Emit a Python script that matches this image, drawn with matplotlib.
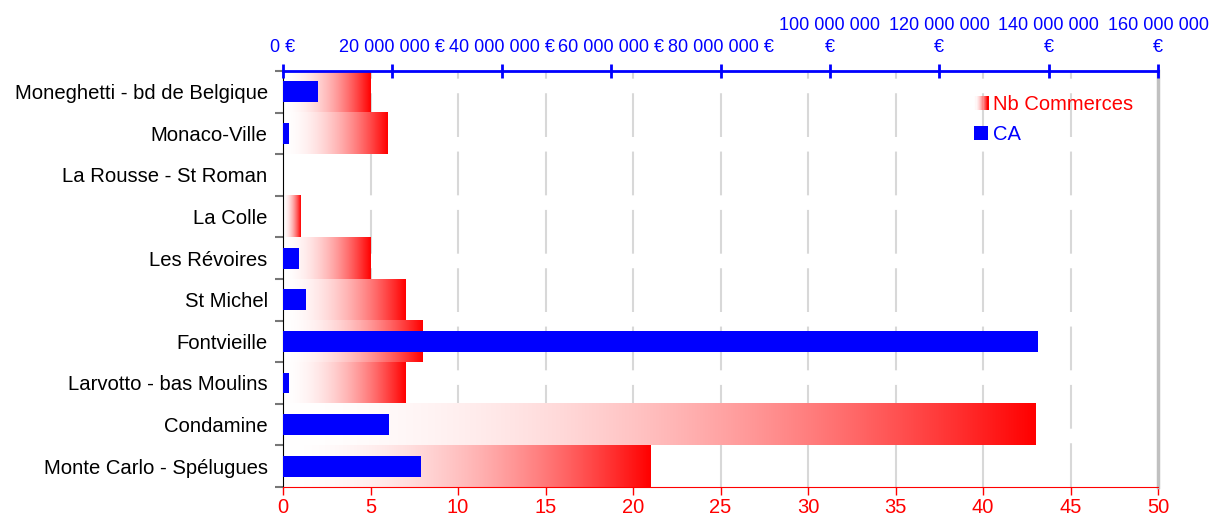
import numpy as np
import matplotlib
matplotlib.use('Agg')
import matplotlib.pyplot as plt
from matplotlib.colors import ListedColormap
from matplotlib.patches import Rectangle
from matplotlib.legend_handler import HandlerBase

plt.rcParams['font.family'] = ['Liberation Sans', 'DejaVu Sans']

# data, top to bottom
quartiers = ['Moneghetti - bd de Belgique', 'Monaco-Ville', 'La Rousse - St Roman',
             'La Colle', 'Les Révoires', 'St Michel', 'Fontvieille',
             'Larvotto - bas Moulins', 'Condamine', 'Monte Carlo - Spélugues']
nb_commerces = [5, 6, 0, 1, 5, 7, 8, 7, 43, 21]
ca = [6.4e6, 1.1e6, 0, 0, 2.9e6, 4.2e6, 138.1e6, 1.1e6, 19.4e6, 25.2e6]

ca_ticks = [0, 20e6, 40e6, 60e6, 80e6, 100e6, 120e6, 140e6, 160e6]
ca_labels = ['0 €', '20 000 000 €', '40 000 000 €', '60 000 000 €', '80 000 000 €',
             '100 000 000\n€', '120 000 000\n€', '140 000 000\n€', '160 000 000\n€']

W, H = 1210, 525
fig = plt.figure(figsize=(W / 100, H / 100), dpi=100)
ax = fig.add_axes([283 / W, 1 - 487 / H, (1158 - 283) / W, (487 - 71) / H])

# white -> red, but stays pale longer (like the office fill)
t = np.linspace(0, 1, 256)
gb = 1 - t ** 1.9
cmap = ListedColormap(np.column_stack([np.ones_like(t), gb, gb]))
grad = t.reshape(1, -1)

n = len(quartiers)
ypos = np.arange(n)
for y, v in zip(ypos, nb_commerces):
    if v > 0:
        ax.imshow(grad, cmap=cmap, aspect='auto', interpolation='bilinear',
                  extent=(0, v, y + 0.5, y - 0.5), zorder=2)

ax.set_xlim(0, 50)
ax.set_ylim(n - 0.5, -0.5)
ax.set_xticks(np.arange(0, 51, 5))
ax.tick_params(axis='x', colors='red', labelcolor='red', labelsize=14.5, length=6, width=1, pad=2)
ax.spines['bottom'].set_color('red')
ax.spines['right'].set_color('#c0c0c0')
ax.spines['right'].set_linewidth(2.5)
ax.spines['left'].set_color('black')

ax.set_yticks(ypos)
ax.set_yticklabels(quartiers, fontsize=14.6)
ax.set_yticks(np.arange(-0.5, n, 1), minor=True)
ax.tick_params(axis='y', which='major', length=0, pad=11)
ax.tick_params(axis='y', which='minor', length=6, width=1.5, color='#777777')

for xv in range(5, 50, 5):
    ax.axvline(xv, color='#d8d8d8', lw=1.5, linestyle=(0, (21, 7)), zorder=0)

# CA on top axis
ax2 = ax.twiny()
ax2.barh(ypos, ca, height=0.5, color='#0000ff', zorder=3)
ax2.set_xlim(0, 160e6)
ax2.set_ylim(n - 0.5, -0.5)
ax2.set_xticks(ca_ticks)
ax2.set_xticklabels(ca_labels, linespacing=1.35)
ax2.tick_params(axis='x', colors='#0000ff', labelcolor='#0000ff', labelsize=13,
                direction='inout', length=10, width=2, pad=6)
ax2.spines['top'].set_color('#0000ff')
ax2.spines['top'].set_linewidth(2)
for s in ['bottom', 'left', 'right']:
    ax2.spines[s].set_visible(False)


class GradientHandler(HandlerBase):
    def create_artists(self, legend, orig_handle, xdescent, ydescent, width, height, fontsize, trans):
        arts = []
        steps = 12
        w = height * 1.0
        x0 = width - w
        for i in range(steps):
            c = cmap((i + 1) / steps)
            r = Rectangle((x0 + i * w / steps - xdescent, -ydescent), w / steps + 0.3, height,
                          facecolor=c, edgecolor='none', transform=trans)
            arts.append(r)
        return arts


class SquareHandler(HandlerBase):
    def create_artists(self, legend, orig_handle, xdescent, ydescent, width, height, fontsize, trans):
        w = height * 1.0
        r = Rectangle((width - w - xdescent, -ydescent), w, height,
                      facecolor='#0000ff', edgecolor='none', transform=trans)
        return [r]


h1 = Rectangle((0, 0), 1, 1)
h2 = Rectangle((0, 0), 1, 1)
leg = ax2.legend([h1, h2], ['Nb Commerces', 'CA'],
                 handler_map={h1: GradientHandler(), h2: SquareHandler()},
                 loc='upper left', bbox_to_anchor=(950 / W, 1 - 77 / H),
                 bbox_transform=fig.transFigure, frameon=False, fontsize=14.5,
                 handlelength=1.0, handletextpad=0.25, labelspacing=0.55)
leg.get_texts()[0].set_color('red')
leg.get_texts()[1].set_color('#0000ff')

fig.savefig('out.png', dpi=100)
